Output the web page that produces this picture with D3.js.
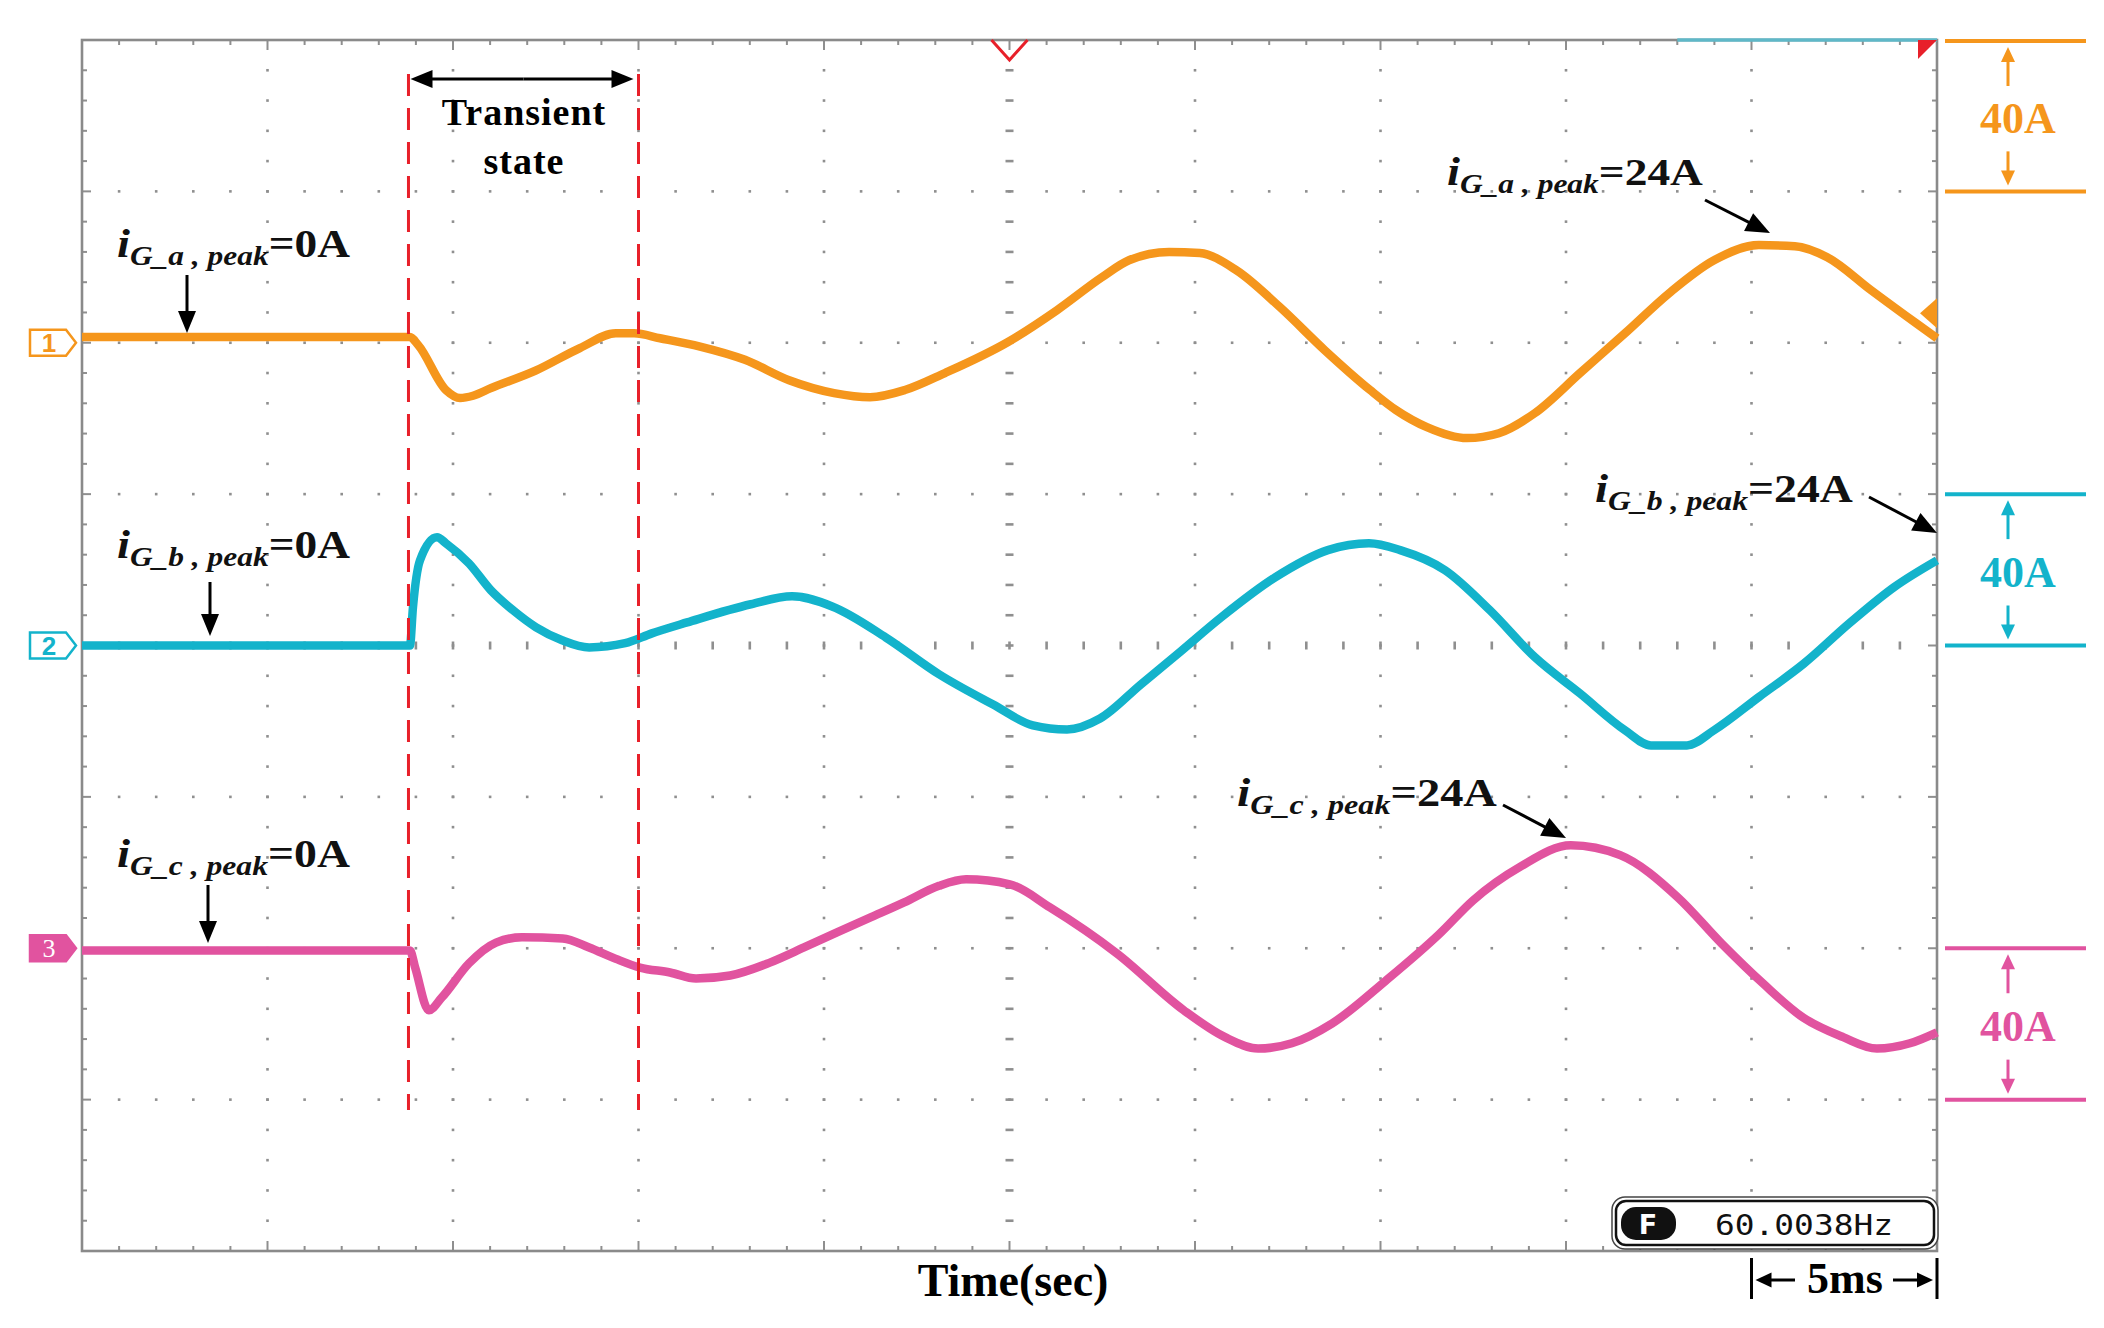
<!DOCTYPE html>
<html>
<head>
<meta charset="utf-8">
<script src="https://cdn.jsdelivr.net/npm/d3@7"></script>
<style>
html, body { margin: 0; padding: 0; background: #fff; }
svg { display: block; }
</style>
</head>
<body>
<div id="chart"></div>
<script>
// ---- data (time in ms, current in A) ----
const timeA = [0, 8.84, 9.06, 9.81, 10.19, 10.54, 11.02, 12.24, 13.42, 14.39, 14.88, 15.58, 16.66, 17.87, 19.06, 20.27, 21.24, 22.18, 23.26, 24.96, 26.28, 27.49, 28.22, 29.30, 30.13, 31.11, 32.29, 33.50, 34.72, 35.42, 36.25, 37.33, 38.19, 39.16, 40.38, 41.59, 42.78, 43.99, 45.20, 46.17, 47.04, 48.22, 49.43, 50.0];
const currentA = [1.5, 1.5, -0.6, -12.5, -14.6, -14.0, -12.0, -7.3, -1.4, 2.5, 2.5, 1.2, -1.0, -4.5, -9.9, -13.3, -14.4, -12.5, -8.0, 0.2, 8.6, 17.3, 21.8, 24.0, 23.7, 19.2, 9.4, -2.0, -12.5, -17.8, -22.3, -25.2, -23.9, -18.6, -8.0, 2.5, 13.1, 21.8, 25.8, 25.5, 22.6, 13.9, 5.2, 1.2];

const timeB = [0, 8.84, 8.92, 9.11, 9.57, 9.81, 10.43, 11.02, 11.62, 12.24, 12.94, 13.67, 14.64, 15.36, 16.31, 18.03, 19.14, 20.22, 21.67, 23.10, 24.56, 25.63, 26.55, 27.44, 28.54, 29.62, 30.70, 32.16, 33.58, 34.69, 35.53, 36.74, 37.95, 39.16, 40.38, 41.59, 42.29, 43.26, 43.99, 45.20, 46.41, 47.63, 48.84, 50.0];
const currentB = [0, 0, 10, 22.5, 28.6, 27.0, 21.7, 14.6, 9.3, 4.8, 1.4, -0.5, 0.6, 3.2, 6.1, 10.9, 13.0, 10.3, 2.1, -7.6, -15.6, -21.1, -22.2, -19.3, -10.3, -1.5, 7.4, 18.0, 25.2, 27.0, 25.2, 19.9, 9.3, -3.1, -12.7, -22.4, -26.4, -26.4, -22.4, -13.6, -4.8, 5.8, 15.4, 22.5];

const timeC = [0, 8.84, 8.98, 9.35, 9.70, 10.43, 11.16, 11.86, 12.96, 13.67, 14.39, 15.04, 15.85, 16.55, 17.47, 18.54, 19.46, 20.35, 21.27, 22.16, 23.10, 23.83, 25.01, 26.09, 27.90, 29.70, 30.81, 31.70, 32.61, 33.69, 35.15, 36.60, 37.49, 38.76, 40.13, 41.46, 43.02, 44.20, 45.31, 46.39, 47.47, 48.38, 49.27, 50.0];
const currentC = [-0.6, -0.6, -5.1, -16.4, -13.0, -4.0, 1.5, 2.9, 2.6, 0.2, -2.8, -5.1, -6.4, -8.0, -7.2, -3.8, 0.2, 4.2, 8.2, 12.1, 16.5, 18.2, 16.9, 10.8, -1.4, -16.4, -23.5, -26.5, -25.1, -19.9, -8.5, 3.9, 12.6, 21.5, 27.2, 24.6, 13.4, 1.2, -9.3, -18.3, -23.5, -26.5, -25.1, -22.2];

const channelIds = ["1", "2", "3"];
const phases = ["a", "b", "c"];
const startPeaks = ["0A", "0A", "0A"];
const steadyPeaks = ["24A", "24A", "24A"];
const scaleLabels = ["40A", "40A", "40A"];
const transientWindow = [8.8, 15.0];   // ms
const timePerDiv = "5ms";
const freqReadout = "60.0038Hz";

// ---- layout ----
const W = 2104, H = 1328;
const LEFT = 82, RIGHT = 1937, TOP = 40, BOTTOM = 1251;
const AMPS_PER_DIV = 40;
const SERIF = "'Liberation Serif', 'Times New Roman', serif";
const ORANGE = "#f5961c", CYAN = "#13b3cb", MAGENTA = "#e1539f", RED = "#e8202a", GRID = "#8f8f8f";

const colors = [ORANGE, CYAN, MAGENTA];
const offsets = [2, 0, -2];   // divisions
const series = [[timeA, currentA], [timeB, currentB], [timeC, currentC]];

const x = d3.scaleLinear().domain([0, 50]).range([LEFT, RIGHT]);
const y = d3.scaleLinear().domain([-4, 4]).range([BOTTOM, TOP]);
const yc = (ch, amps) => y(offsets[ch] + amps / AMPS_PER_DIV);

const svg = d3.select("#chart").append("svg")
	.attr("width", W)
	.attr("height", H)
	.style("background", "#fff");

// ---- graticule ----
const grid = svg.append("g");
const minorY = d3.range(1, 40).map(k => -4 + k * 0.2);
const minorX = d3.range(1, 50);

d3.range(5, 50, 5).forEach(t => {
	minorY.forEach(v => {
		let wide = t === 25;
		grid.append("rect")
			.attr("x", x(t) - (wide ? 4 : 1.3))
			.attr("y", y(v) - 1.3)
			.attr("width", wide ? 8 : 2.6)
			.attr("height", 2.6)
			.attr("fill", GRID);
	});
});
[-3, -2, -1, 0, 1, 2, 3].forEach(v => {
	minorX.forEach(t => {
		let tall = v === 0;
		grid.append("rect")
			.attr("x", x(t) - 1.3)
			.attr("y", y(v) - (tall ? 4 : 1.3))
			.attr("width", 2.6)
			.attr("height", tall ? 8 : 2.6)
			.attr("fill", GRID);
	});
});

// border ticks
d3.range(0, 51).forEach(t => {
	let len = t % 5 === 0 ? 10 : 5;
	grid.append("line").attr("x1", x(t)).attr("x2", x(t)).attr("y1", TOP).attr("y2", TOP + len)
		.attr("stroke", GRID).attr("stroke-width", 2);
	grid.append("line").attr("x1", x(t)).attr("x2", x(t)).attr("y1", BOTTOM).attr("y2", BOTTOM - len)
		.attr("stroke", GRID).attr("stroke-width", 2);
});
d3.range(0, 41).forEach(k => {
	let v = -4 + k * 0.2;
	let len = k % 5 === 0 ? 9 : 5;
	grid.append("line").attr("x1", LEFT).attr("x2", LEFT + len).attr("y1", y(v)).attr("y2", y(v))
		.attr("stroke", GRID).attr("stroke-width", 2);
	grid.append("line").attr("x1", RIGHT).attr("x2", RIGHT - len).attr("y1", y(v)).attr("y2", y(v))
		.attr("stroke", GRID).attr("stroke-width", 2);
});

grid.append("rect")
	.attr("x", LEFT).attr("y", TOP)
	.attr("width", RIGHT - LEFT).attr("height", BOTTOM - TOP)
	.attr("fill", "none")
	.attr("stroke", "#8a8a8a")
	.attr("stroke-width", 2.6);

// scope indicators on the border
svg.append("line")
	.attr("x1", x(43)).attr("x2", RIGHT).attr("y1", TOP).attr("y2", TOP)
	.attr("stroke", "#5fb8c8").attr("stroke-width", 3.5);
svg.append("polygon")
	.attr("points", [[RIGHT - 19, TOP], [RIGHT, TOP], [RIGHT - 19, TOP + 19]].join(" "))
	.attr("fill", RED);
svg.append("polyline")
	.attr("points", [[x(25) - 18, TOP], [x(25), TOP + 20], [x(25) + 18, TOP]].join(" "))
	.attr("fill", "none").attr("stroke", RED).attr("stroke-width", 3);
let trigY = yc(0, 7.8);
svg.append("polygon")
	.attr("points", [[RIGHT, trigY - 15], [RIGHT, trigY + 15], [RIGHT - 17, trigY]].join(" "))
	.attr("fill", ORANGE);

// ---- traces ----
series.forEach(([ts, amps], ch) => {
	let line = d3.line()
		.x(d => x(d[0]))
		.y(d => yc(ch, d[1]))
		.curve(d3.curveMonotoneX);
	svg.append("path")
		.datum(ts.map((t, i) => [t, amps[i]]))
		.attr("d", line)
		.attr("fill", "none")
		.attr("stroke", colors[ch])
		.attr("stroke-width", 8.5)
		.attr("stroke-linejoin", "round");
});

// channel markers
channelIds.forEach((id, ch) => {
	let cy = yc(ch, 0);
	let filled = ch === 2;
	svg.append("path")
		.attr("d", `M30,${cy - 13} L66,${cy - 13} L76,${cy} L66,${cy + 13} L30,${cy + 13} Z`)
		.attr("fill", filled ? colors[ch] : "#fff")
		.attr("stroke", colors[ch])
		.attr("stroke-width", 2.5);
	svg.append("text")
		.attr("x", 49).attr("y", cy + 9)
		.attr("text-anchor", "middle")
		.attr("font-family", filled ? SERIF : "'Liberation Sans', Arial, sans-serif")
		.attr("font-weight", filled ? "normal" : "bold")
		.attr("font-size", 26)
		.attr("fill", filled ? "#fff" : colors[ch])
		.text(id);
});

// ---- helpers ----
function arrow(g, x1, y1, x2, y2, color, width, headLen, headW) {
	let a = Math.atan2(y2 - y1, x2 - x1), c = Math.cos(a), s = Math.sin(a);
	g.append("line")
		.attr("x1", x1).attr("y1", y1)
		.attr("x2", x2 - c * headLen * 0.8).attr("y2", y2 - s * headLen * 0.8)
		.attr("stroke", color).attr("stroke-width", width);
	let bx = x2 - c * headLen, by = y2 - s * headLen;
	g.append("polygon")
		.attr("points", [[x2, y2], [bx - s * headW / 2, by + c * headW / 2], [bx + s * headW / 2, by - c * headW / 2]].join(" "))
		.attr("fill", color);
}

function peakLabel(px, py, phase, value, targetW) {
	let g = svg.append("g");
	let t = g.append("text")
		.attr("font-family", SERIF)
		.attr("font-weight", "bold")
		.attr("fill", "#111");
	t.append("tspan").attr("font-style", "italic").attr("font-size", 40).text("i");
	t.append("tspan").attr("font-style", "italic").attr("font-size", 27).attr("dy", 8).text("G_" + phase + " , peak");
	t.append("tspan").attr("font-size", 39).attr("dy", -8).text("=" + value);
	let bw = t.node().getBBox().width;
	g.attr("transform", `translate(${px},${py}) scale(${targetW / bw},1)`);
}

const ann = svg.append("g");

// transient window
transientWindow.forEach(t => {
	ann.append("line")
		.attr("x1", x(t)).attr("x2", x(t)).attr("y1", 74).attr("y2", 1110)
		.attr("stroke", RED).attr("stroke-width", 3).attr("stroke-dasharray", "22,12");
});
arrow(ann, (x(transientWindow[0]) + x(transientWindow[1])) / 2, 79, x(transientWindow[0]) + 2, 79, "#000", 3, 22, 18);
arrow(ann, (x(transientWindow[0]) + x(transientWindow[1])) / 2, 79, x(transientWindow[1]) - 5, 79, "#000", 3, 22, 18);
ann.append("text")
	.attr("x", 524).attr("y", 125)
	.attr("text-anchor", "middle")
	.attr("font-family", SERIF).attr("font-weight", "bold").attr("font-size", 38)
	.attr("letter-spacing", 1)
	.text("Transient");
ann.append("text")
	.attr("x", 524).attr("y", 174)
	.attr("text-anchor", "middle")
	.attr("font-family", SERIF).attr("font-weight", "bold").attr("font-size", 38)
	.attr("letter-spacing", 1)
	.text("state");

// zero-current labels before the transient
const startLabelY = [257, 558, 867];
const startArrows = [[187, 275, 333], [210, 582, 636], [208, 885, 943]];
phases.forEach((p, ch) => {
	peakLabel(117, startLabelY[ch], p, startPeaks[ch], 233);
	let [ax, ay1, ay2] = startArrows[ch];
	arrow(ann, ax, ay1, ax, ay2, "#000", 3, 22, 18);
});

// steady-state peak labels
const steadyLabelPos = [[1447, 185, 256], [1595, 502, 258], [1237, 806, 260]];
const steadyArrows = [[1705, 200, 1770, 233], [1869, 497, 1937, 533], [1503, 805, 1566, 838]];
phases.forEach((p, ch) => {
	let [lx, ly, lw] = steadyLabelPos[ch];
	peakLabel(lx, ly, p, steadyPeaks[ch], lw);
	let [x1, y1, x2, y2] = steadyArrows[ch];
	arrow(ann, x1, y1, x2, y2, "#000", 3, 24, 20);
});

// vertical scale brackets (one division each)
const bracketTop = [4, 1, -2];   // division of the upper line
scaleLabels.forEach((lab, ch) => {
	let yt = y(bracketTop[ch]) + (ch === 0 ? 1 : 0), yb = y(bracketTop[ch] - 1);
	let col = colors[ch];
	[yt, yb].forEach(v => {
		ann.append("line").attr("x1", 1945).attr("x2", 2086).attr("y1", v).attr("y2", v)
			.attr("stroke", col).attr("stroke-width", 4);
	});
	let ax = 2008;
	arrow(ann, ax, yt + 45, ax, yt + 6, col, 3, 15, 14);
	arrow(ann, ax, yb - 40, ax, yb - 6, col, 3, 15, 14);
	ann.append("text")
		.attr("x", 2018).attr("y", (yt + yb) / 2 + 17)
		.attr("text-anchor", "middle")
		.attr("font-family", SERIF).attr("font-weight", "bold").attr("font-size", 44)
		.attr("fill", col)
		.text(lab);
});

// x axis title and time/div marker
ann.append("text")
	.attr("x", 1013).attr("y", 1296)
	.attr("text-anchor", "middle")
	.attr("font-family", SERIF).attr("font-weight", "bold").attr("font-size", 46)
	.text("Time(sec)");

[x(45), x(50)].forEach(v => {
	ann.append("line").attr("x1", v).attr("x2", v).attr("y1", 1258).attr("y2", 1299)
		.attr("stroke", "#000").attr("stroke-width", 3);
});
arrow(ann, 1795, 1280, x(45) + 4, 1280, "#000", 3, 16, 15);
arrow(ann, 1893, 1280, x(50) - 4, 1280, "#000", 3, 16, 15);
ann.append("text")
	.attr("x", 1845).attr("y", 1293)
	.attr("text-anchor", "middle")
	.attr("font-family", SERIF).attr("font-weight", "bold").attr("font-size", 44)
	.text(timePerDiv);

// frequency readout
const fbox = svg.append("g");
fbox.append("rect")
	.attr("x", 1612).attr("y", 1197).attr("width", 326).attr("height", 52).attr("rx", 13)
	.attr("fill", "#fff").attr("stroke", "#444").attr("stroke-width", 1.5);
fbox.append("rect")
	.attr("x", 1616).attr("y", 1201).attr("width", 318).attr("height", 44).attr("rx", 10)
	.attr("fill", "none").attr("stroke", "#111").attr("stroke-width", 2.5);
fbox.append("rect")
	.attr("x", 1621).attr("y", 1207).attr("width", 55).attr("height", 33).attr("rx", 15)
	.attr("fill", "#111");
fbox.append("text")
	.attr("x", 1648).attr("y", 1234)
	.attr("text-anchor", "middle")
	.attr("font-family", "'DejaVu Sans', sans-serif").attr("font-weight", "bold").attr("font-size", 27)
	.attr("fill", "#fff")
	.text("F");
fbox.append("text")
	.attr("x", 1715).attr("y", 1235)
	.attr("font-family", "'DejaVu Sans Mono', monospace").attr("font-size", 29)
	.attr("textLength", 178).attr("lengthAdjust", "spacingAndGlyphs")
	.attr("fill", "#111")
	.text(freqReadout);
</script>
</body>
</html>
